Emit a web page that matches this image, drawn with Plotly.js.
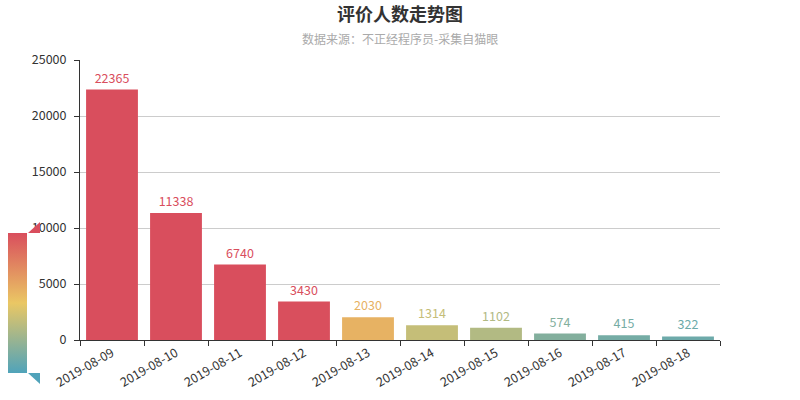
<!DOCTYPE html>
<html>
<head>
<meta charset="utf-8">
<script src="https://cdn.plot.ly/plotly-3.0.1.min.js"></script>
<style>html,body{margin:0;padding:0;background:#fff}#chart{width:800px;height:400px}</style>
</head>
<body>
<div id="chart"></div>
<script>
const dates = ["2019-08-09","2019-08-10","2019-08-11","2019-08-12","2019-08-13","2019-08-14","2019-08-15","2019-08-16","2019-08-17","2019-08-18"];
const counts = [22365, 11338, 6740, 3430, 2030, 1314, 1102, 574, 415, 322];
const colorStops = ["#50a3ba", "#eac764", "#d94e5d"];
const cmin = 0, cmax = 3450;

function hex2rgb(h){return [parseInt(h.slice(1,3),16),parseInt(h.slice(3,5),16),parseInt(h.slice(5,7),16)];}
function colorFor(v){
  let t = Math.max(0, Math.min(1, (v - cmin) / (cmax - cmin)));
  const n = colorStops.length - 1;
  let i = Math.min(n - 1, Math.floor(t * n));
  let f = t * n - i;
  const a = hex2rgb(colorStops[i]), b = hex2rgb(colorStops[i+1]);
  const c = a.map((x,k)=>Math.round(x + (b[k]-x)*f));
  return "rgb(" + c.join(",") + ")";
}
const labelColors = counts.map(colorFor);
const scale = colorStops.map((c,i)=>[i/(colorStops.length-1), c]);

const font = "'Noto Sans CJK SC', 'Noto Sans', sans-serif";
const L = 80, R = 720, T = 60, B = 340;
const px = x => (x - L) / (R - L);
const py = y => (B - y) / (B - T);

const trace = {
  type: "bar",
  x: dates,
  y: counts,
  text: counts.map(String),
  textposition: "outside",
  cliponaxis: false,
  textfont: {color: labelColors, size: 12.5, family: font},
  marker: {
    color: counts,
    colorscale: scale,
    cmin: cmin,
    cmax: cmax,
    showscale: true,
    colorbar: {
      x: px(8), xanchor: "left", xpad: 0,
      y: py(303), yanchor: "middle", ypad: 0,
      thickness: 19,
      len: 140, lenmode: "pixels",
      showticklabels: false,
      ticks: "",
      outlinewidth: 0
    }
  },
  hoverinfo: "x+y"
};

const layout = {
  width: 800, height: 400,
  margin: {l: L, r: 800 - R, t: T, b: 400 - B, autoexpand: false},
  paper_bgcolor: "#fff",
  plot_bgcolor: "#fff",
  bargap: 0.19,
  font: {family: font, color: "#333", size: 12},
  annotations: [{
    text: "<b>评价人数走势图</b>",
    xref: "paper", yref: "paper",
    x: px(400), y: py(13),
    xanchor: "center", yanchor: "middle",
    showarrow: false,
    font: {size: 18, color: "#333", family: font}
  }, {
    text: "数据来源：不正经程序员-采集自猫眼",
    xref: "paper", yref: "paper",
    x: px(400), y: py(38),
    xanchor: "center", yanchor: "middle",
    showarrow: false,
    font: {size: 12, color: "#aaa", family: font}
  }],
  xaxis: {
    type: "category",
    showline: true, linecolor: "#333", linewidth: 1,
    ticks: "outside", tickson: "boundaries", ticklen: 5, tickcolor: "#333",
    tickangle: -30,
    tickfont: {size: 12.5, color: "#333"},
    showgrid: false,
    fixedrange: true
  },
  yaxis: {
    range: [0, 25000],
    dtick: 5000,
    showline: true, linecolor: "#333", linewidth: 1,
    ticks: "outside", ticklen: 5, tickcolor: "#333",
    ticklabelstandoff: 5,
    tickfont: {size: 12.5, color: "#333"},
    showgrid: true, gridcolor: "#ccc",
    zeroline: false,
    tickformat: "d",
    fixedrange: true
  },
  shapes: [
    {type: "path", xref: "paper", yref: "paper", layer: "above",
     path: `M ${px(28)} ${py(233)} L ${px(40)} ${py(222)} L ${px(40)} ${py(233)} Z`,
     fillcolor: colorStops[2], line: {width: 0}},
    {type: "path", xref: "paper", yref: "paper", layer: "above",
     path: `M ${px(28)} ${py(373)} L ${px(40)} ${py(373)} L ${px(40)} ${py(384)} Z`,
     fillcolor: colorStops[0], line: {width: 0}}
  ],
  showlegend: false
};

Plotly.newPlot("chart", [trace], layout, {displayModeBar: false, staticPlot: true});
</script>
</body>
</html>
